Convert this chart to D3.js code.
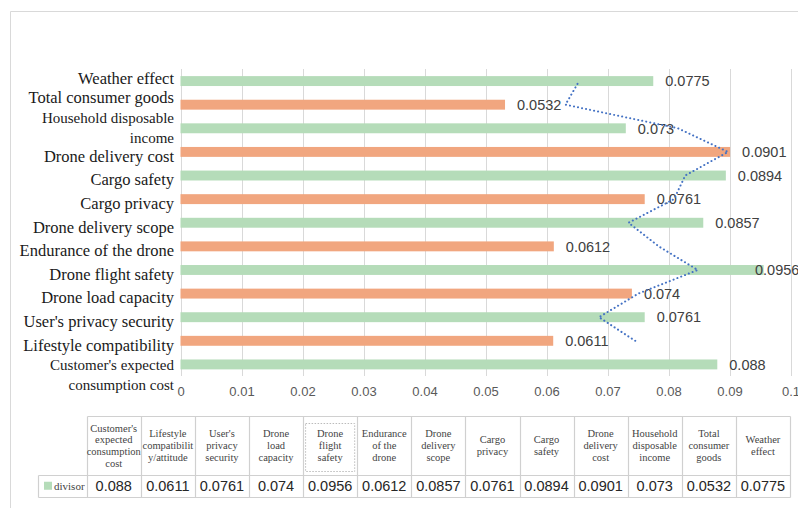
<!DOCTYPE html>
<html lang="en">
<head>
<meta charset="utf-8">
<title>divisor</title>
<script src="https://cdnjs.cloudflare.com/ajax/libs/d3/7.8.5/d3.min.js"></script>
<style>
  body { margin: 0; background: #fff; }
  svg { display: block; }
</style>
</head>
<body>
<div id="chart"></div>
<script type="text/javascript">

// data, bottom row first
const categories = ["Customer's expected consumption cost", "Lifestyle compatibility", "User's privacy security",
    "Drone load capacity", "Drone flight safety", "Endurance of the drone", "Drone delivery scope",
    "Cargo privacy", "Cargo safety", "Drone delivery cost", "Household disposable income",
    "Total consumer goods", "Weather effect"];
const values = [0.088, 0.0611, 0.0761, 0.074, 0.0956, 0.0612, 0.0857, 0.0761, 0.0894, 0.0901, 0.073, 0.0532, 0.0775];
// dotted trend line (2-period moving average as drawn)
const trend = [null, 0.07455, 0.0686, 0.07505, 0.0848, 0.0784, 0.07345, 0.0809, 0.08275, 0.08975, 0.08155, 0.0631, 0.06535];
const xTicks = [0, 0.01, 0.02, 0.03, 0.04, 0.05, 0.06, 0.07, 0.08, 0.09, 0.1];
const axisLabelLines = [["Customer's expected", "consumption cost"], ["Lifestyle compatibility"], ["User's privacy security"],
    ["Drone load capacity"], ["Drone flight safety"], ["Endurance of the drone"], ["Drone delivery scope"],
    ["Cargo privacy"], ["Cargo safety"], ["Drone delivery cost"], ["Household disposable", "income"],
    ["Total consumer goods"], ["Weather effect"]];
const headerLines = [["Customer's", "expected", "consumption", "cost"], ["Lifestyle", "compatibilit", "y/attitude"],
    ["User's", "privacy", "security"], ["Drone", "load", "capacity"], ["Drone", "flight", "safety"],
    ["Endurance", "of the", "drone"], ["Drone", "delivery", "scope"], ["Cargo", "privacy"], ["Cargo", "safety"],
    ["Drone", "delivery", "cost"], ["Household", "disposable", "income"], ["Total", "consumer", "goods"],
    ["Weather", "effect"]];
const seriesName = "divisor";

const width = 798;
const height = 508;
const green = "#b5dcb9";
const orange = "#f1a67f";
const gridColor = "#d9d9d9";
const serif = "'Liberation Serif', 'Times New Roman', serif";
const sans = "'Liberation Sans', Arial, sans-serif";

const svg = d3.select("#chart")
    .append("svg")
    .attr("width", width)
    .attr("height", height);

// outer frame
svg.append("path")
    .attr("d", "M10.5," + height + "V11.5H" + width)
    .attr("fill", "none")
    .attr("stroke", gridColor);

const xScale = d3.scaleLinear().domain([0, 0.1]).range([180.5, 790.5]);
const yScale = d3.scaleBand()
    .domain(categories)
    .range([376, 69.5])
    .paddingInner(0.58)
    .paddingOuter(0.28);
const yMid = d => yScale(d) + yScale.bandwidth() / 2;

// gridlines
svg.append("g")
    .selectAll("line")
    .data(xTicks)
    .enter()
    .append("line")
        .attr("x1", d => Math.round(xScale(d)) + 0.5)
        .attr("x2", d => Math.round(xScale(d)) + 0.5)
        .attr("y1", 69)
        .attr("y2", 376)
        .attr("stroke", gridColor);

// x axis labels
const xAxis = d3.axisBottom(xScale)
    .tickValues(xTicks)
    .tickFormat(d => d === 0 ? "0" : String(+d.toFixed(2)))
    .tickSize(0)
    .tickPadding(0);
const gx = svg.append("g")
    .attr("transform", "translate(0,387)")
    .call(xAxis);
gx.select(".domain").remove();
gx.selectAll("text")
    .attr("font-family", sans)
    .attr("font-size", 13)
    .attr("fill", "#595959")
    .attr("dy", "0.71em");

// bars
svg.append("g")
    .selectAll("rect")
    .data(categories)
    .enter()
    .append("rect")
        .attr("x", xScale(0))
        .attr("y", d => yScale(d))
        .attr("width", (d, i) => xScale(values[i]) - xScale(0))
        .attr("height", yScale.bandwidth())
        .attr("fill", (d, i) => i % 2 === 0 ? green : orange);

// value labels (pulled back when they would run off the plot)
svg.append("g")
    .selectAll("text")
    .data(categories)
    .enter()
    .append("text")
        .attr("x", (d, i) => Math.min(xScale(values[i]) + 12, 755))
        .attr("y", d => yMid(d))
        .attr("dy", "0.36em")
        .attr("font-family", sans)
        .attr("font-size", 14.5)
        .attr("fill", "#404040")
        .text((d, i) => String(values[i]));

// trend line
const line = d3.line()
    .defined(d => d != null)
    .x(d => xScale(d))
    .y((d, i) => yMid(categories[i]));
svg.append("path")
    .datum(trend)
    .attr("d", line)
    .attr("fill", "none")
    .attr("stroke", "#4472c4")
    .attr("stroke-width", 2)
    .attr("stroke-linecap", "round")
    .attr("stroke-dasharray", "0.1 4");

// category labels
const labelNudge = {"Weather effect": -7, "Total consumer goods": -11};
const cat = svg.append("g")
    .selectAll("text")
    .data(categories)
    .enter()
    .append("text")
        .attr("x", 174)
        .attr("text-anchor", "end")
        .attr("font-family", serif)
        .attr("fill", "#1a1a1a");
cat.each(function(d, i) {
    const lines = axisLabelLines[i];
    const el = d3.select(this);
    if (lines.length === 1) {
        el.attr("font-size", 16.5)
          .attr("y", yMid(d) + 4 + (labelNudge[d] || 0))
          .attr("dy", "0.35em")
          .text(lines[0]);
    } else {
        const top = i === 0 ? yMid(d) : yMid(d) - 11;
        el.attr("font-size", 15);
        lines.forEach((t, k) => {
            el.append("tspan")
                .attr("x", 174)
                .attr("y", top + k * 20.5)
                .attr("dy", "0.35em")
                .text(t);
        });
    }
});

// data table
const colScale = d3.scaleBand().domain(categories).range([86.7, 790]);
const headTop = 416, rowTop = 475, rowBottom = 496.5, legendLeft = 37.5;
const table = svg.append("g");

const tableLines = [];
tableLines.push([colScale.range()[0], headTop, 790, headTop]);
tableLines.push([legendLeft, rowTop, 790, rowTop]);
tableLines.push([legendLeft, rowBottom, 790, rowBottom]);
tableLines.push([legendLeft, rowTop, legendLeft, rowBottom]);
categories.forEach(c => tableLines.push([colScale(c), headTop, colScale(c), rowBottom]));
tableLines.push([790, headTop, 790, rowBottom]);
table.selectAll("line")
    .data(tableLines)
    .enter()
    .append("line")
        .attr("x1", d => Math.round(d[0]) + 0.5)
        .attr("y1", d => Math.round(d[1]) + 0.5)
        .attr("x2", d => Math.round(d[2]) + 0.5)
        .attr("y2", d => Math.round(d[3]) + 0.5)
        .attr("stroke", "#d0d0d0")
        .attr("stroke-width", 1.2);

// header text
const headMid = (headTop + rowTop) / 2;
table.selectAll("text.head")
    .data(categories)
    .enter()
    .append("text")
        .attr("class", "head")
        .attr("text-anchor", "middle")
        .attr("font-family", serif)
        .attr("font-size", 10.5)
        .attr("fill", "#444")
    .each(function(d, i) {
        const lines = headerLines[i];
        const start = headMid - (lines.length - 1) * 11.7 / 2;
        lines.forEach((t, k) => {
            d3.select(this).append("tspan")
                .attr("x", colScale(d) + colScale.bandwidth() / 2)
                .attr("y", start + k * 11.7)
                .attr("dy", "0.35em")
                .text(t);
        });
    });

// selection box around the flight safety header
table.append("rect")
    .attr("x", colScale("Drone flight safety") + 2.5)
    .attr("y", headTop + 7.5)
    .attr("width", colScale.bandwidth() - 5)
    .attr("height", rowTop - headTop - 11)
    .attr("fill", "none")
    .attr("stroke", "#bbb")
    .attr("stroke-dasharray", "1.5 1.5");

// values row
const rowMid = (rowTop + rowBottom) / 2;
table.selectAll("text.val")
    .data(categories)
    .enter()
    .append("text")
        .attr("class", "val")
        .attr("x", d => colScale(d) + colScale.bandwidth() / 2)
        .attr("y", rowMid)
        .attr("dy", "0.36em")
        .attr("text-anchor", "middle")
        .attr("font-family", sans)
        .attr("font-size", 14.5)
        .attr("fill", "#262626")
        .text((d, i) => String(values[i]));

// legend key
table.append("rect")
    .attr("x", 44)
    .attr("y", rowMid - 4)
    .attr("width", 8)
    .attr("height", 8)
    .attr("fill", green);
table.append("text")
    .attr("x", 54)
    .attr("y", rowMid)
    .attr("dy", "0.35em")
    .attr("font-family", serif)
    .attr("font-size", 11)
    .attr("fill", "#444")
    .text(seriesName);

</script>
</body>
</html>
